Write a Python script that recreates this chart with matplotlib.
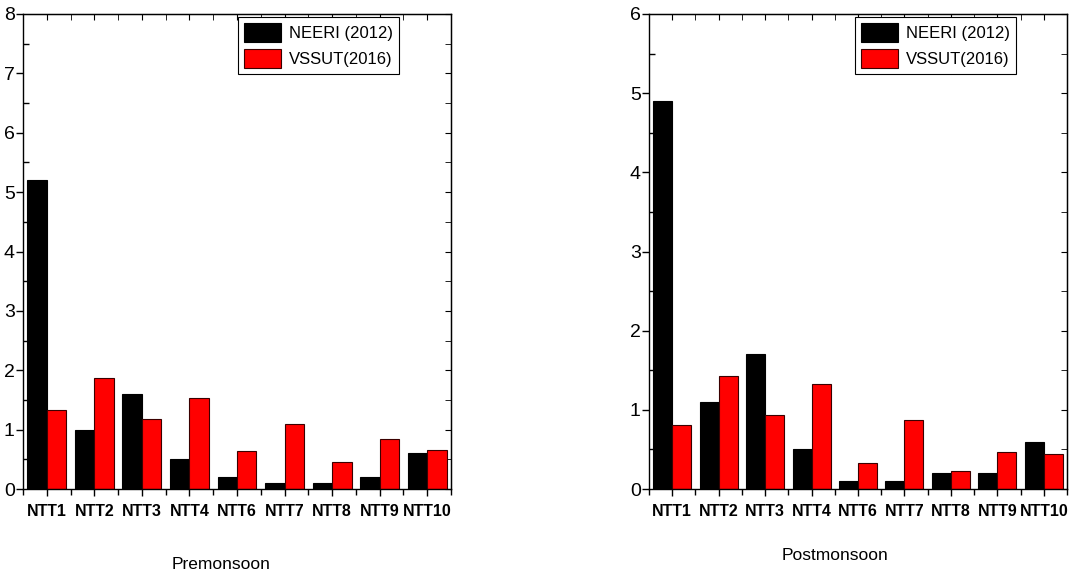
import matplotlib
matplotlib.use("Agg")
import matplotlib.pyplot as plt
import numpy as np
from matplotlib.ticker import MultipleLocator, FixedLocator

plt.rcParams['font.family'] = ['Liberation Sans', 'DejaVu Sans']

categories = ["NTT1", "NTT2", "NTT3", "NTT4", "NTT6", "NTT7", "NTT8", "NTT9", "NTT10"]
pre_neeri = [5.2, 1.0, 1.6, 0.5, 0.2, 0.1, 0.1, 0.2, 0.6]
pre_vssut = [1.33, 1.87, 1.18, 1.54, 0.64, 1.09, 0.45, 0.85, 0.65]
post_neeri = [4.9, 1.1, 1.7, 0.5, 0.1, 0.1, 0.2, 0.2, 0.6]
post_vssut = [0.81, 1.43, 0.94, 1.33, 0.33, 0.87, 0.23, 0.47, 0.44]
series_names = ["NEERI (2012)", "VSSUT(2016)"]
titles = ["Premonsoon", "Postmonsoon"]
ylims = [8, 6]

fig = plt.figure(figsize=(10.73, 5.75), dpi=100)
ax1 = fig.add_axes([23/1073, 1-489/575, 428/1073, 475/575])
ax2 = fig.add_axes([649/1073, 1-489/575, 418/1073, 475/575])

w = 0.41
panels = [(ax1, pre_neeri, pre_vssut, titles[0], ylims[0], (0.463, -0.158)),
          (ax2, post_neeri, post_vssut, titles[1], ylims[1], (0.445, -0.141))]
for ax, a, b, title, ymax, tpos in panels:
    x = np.arange(len(categories))
    ax.bar(x - w/2, a, width=w, color="black", edgecolor="black", linewidth=0.8, label=series_names[0])
    ax.bar(x + w/2, b, width=w, color="#ff0000", edgecolor="#3a0000", linewidth=0.8, label=series_names[1])
    ax.set_xlim(-0.5, len(categories) - 0.5)
    ax.set_ylim(0, ymax)
    ax.set_xticks(x)
    ax.set_xticklabels(categories, fontsize=11.5, fontweight="bold")
    ax.xaxis.set_minor_locator(FixedLocator(np.arange(-0.5, len(categories), 1.0)))
    ax.yaxis.set_major_locator(MultipleLocator(1))
    ax.yaxis.set_minor_locator(MultipleLocator(0.5))
    ax.tick_params(axis='x', which='major', direction='out', length=5, width=1, pad=6)
    ax.tick_params(axis='x', which='minor', direction='out', length=4, width=1)
    ax.tick_params(axis='y', which='major', direction='out', length=5, width=1, labelsize=14, pad=1)
    ax.tick_params(axis='y', which='minor', direction='in', length=4, width=1)
    for s in ax.spines.values():
        s.set_linewidth(1.0)
    sx = ax.secondary_xaxis('top')
    sx.set_xticks(x)
    sx.xaxis.set_minor_locator(FixedLocator(np.arange(-0.5, len(categories), 1.0)))
    sx.tick_params(axis='x', which='both', direction='in', length=4, labeltop=False)
    sx.set_xticklabels([])
    sy = ax.secondary_yaxis('right')
    sy.yaxis.set_major_locator(MultipleLocator(1))
    sy.yaxis.set_minor_locator(MultipleLocator(0.5))
    sy.tick_params(axis='y', which='both', direction='in', length=4, labelright=False)
    leg = ax.legend(loc='upper right', bbox_to_anchor=(0.878, 0.993), fontsize=12,
                    frameon=True, fancybox=False, edgecolor='black', framealpha=1,
                    handlelength=2.2, handleheight=1.4, handletextpad=0.5,
                    borderpad=0.35, labelspacing=0.4, borderaxespad=0)
    leg.get_frame().set_linewidth(0.8)
    ax.text(tpos[0], tpos[1], title, transform=ax.transAxes, ha='center', va='center', fontsize=12.5)

fig.savefig("out.png", dpi=100)
